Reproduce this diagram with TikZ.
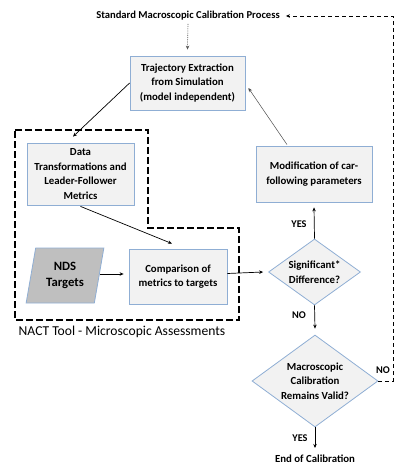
\documentclass[tikz,border=0pt]{standalone}
\usepackage{fontspec}
\setmainfont{Carlito}
\usetikzlibrary{shapes.geometric,arrows.meta,calc}
\definecolor{boxfill}{HTML}{F2F2F2}
\definecolor{boxline}{HTML}{8FAED4}
\definecolor{ndsfill}{HTML}{BFBFBF}
\begin{document}
\begin{tikzpicture}[x=1pt,y=-1pt,
  every node/.style={font=\bfseries\fontsize{10.8}{14.5}\selectfont, align=center, inner sep=0pt},
  procbox/.style={draw=boxline, fill=boxfill, line width=0.8pt, minimum width=#1},
  decision/.style={diamond, draw=boxline, fill=boxfill, line width=0.8pt},
  flow/.style={-{Stealth[length=4pt,width=3.5pt]}, line width=0.7pt, black},
  lbl/.style={font=\bfseries\fontsize{10.3}{12}\selectfont}
]
\useasboundingbox (0,0) rectangle (403,470);
% region
\draw[line width=2.3pt, dash pattern=on 7pt off 3pt] (15,130) -- (148,130) -- (148,228) -- (239,228) -- (239,320) -- (15,320) -- cycle;

\node[font=\bfseries\fontsize{10.6}{12}\selectfont] (title) at (188,16) {Standard Macroscopic Calibration Process};
\node[procbox=115pt, minimum height=54pt] (traj) at (187.5,83) {Trajectory Extraction\\from Simulation\\(model independent)};
\node[procbox=107pt, minimum height=62pt] (data) at (80.5,174) {Data\\Transformations and\\Leader-Follower\\Metrics};
\node[trapezium, trapezium left angle=77, trapezium right angle=103, trapezium stretches=true,
      minimum width=78pt, minimum height=55pt, draw=boxline, fill=ndsfill, line width=0.8pt,
      font=\bfseries\fontsize{12.7}{16}\selectfont] (nds) at (65,275.5) {NDS\\Targets};
\node[procbox=98pt, minimum height=55pt] (comp) at (178,276.5) {Comparison of\\metrics to targets};
\node[procbox=116pt, minimum height=56pt] (mod) at (314,174) {Modification of car-\\following parameters};
\node[decision, minimum width=92pt, minimum height=66pt,
      label={center:{Significant*\\Difference?}}] (sig) at (314.5,272) {};
\node[decision, minimum width=126pt, minimum height=92pt,
      label={center:{Macroscopic\\Calibration\\Remains Valid?}}] (mac) at (315,381) {};
\node (end) at (315,459) {End of Calibration};
\node[font=\fontsize{13.6}{15}\selectfont] (nact) at (122,332) {NACT Tool - Microscopic Assessments};

\node[lbl] (yes1) at (299,224) {YES};
\node[lbl] (no1) at (299,315) {NO};
\node[lbl] (no2) at (383,370) {NO};
\node[lbl] (yes2) at (300,438) {YES};

% connectors
\draw[-{Stealth[length=4pt,width=3.5pt]}, line width=0.6pt, black!65, dash pattern=on 1.2pt off 1pt] ($(title.south)+(0,3)$) -- ($(traj.north)+(0,-6)$);
\draw[flow] (traj.west) -- ($(data.north)+(-7.5,-6)$);
\draw[flow] ($(data.south)+(0,1)$) -- ($(comp.north)+(-6,-5)$);
\draw[flow] (nds.east |- 0,274) -- ($(comp.west)+(-5,-2.5)$);
\draw[flow] ($(comp.east)+(0,-3)$) -- ($(sig.west)+(-5,0)$);
\draw[flow] (sig.north) -- ($(mod.south)+(0,5)$);
\draw[-{Stealth[length=4pt,width=3.5pt]}, line width=0.5pt, black!70] ($(mod.north)+(-27,-1)$) -- ($(traj.east)+(3,5)$);
\draw[flow] (sig.south) -- ($(mac.north)+(0,-6)$);
\draw[flow] (mac.south) -- ($(end.north)+(0,-7)$);
\draw[-{Stealth[length=4pt,width=3.5pt]}, line width=0.7pt, dash pattern=on 4pt off 3pt] (mac.east) -- (393,381) -- (393,16) -- ($(title.east)+(6,0)$);
\end{tikzpicture}
\end{document}
